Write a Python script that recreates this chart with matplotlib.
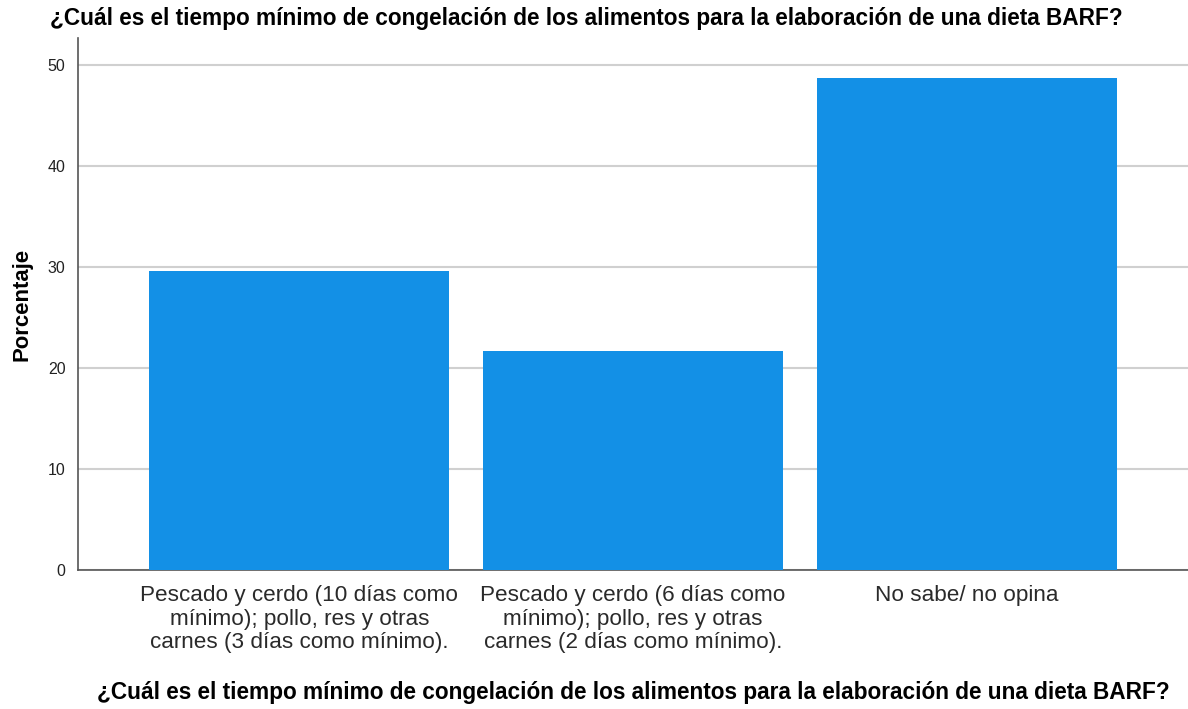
import numpy as np
import matplotlib.pyplot as plt

plt.rcParams['font.family'] = ['Liberation Sans', 'DejaVu Sans']

# Data
categories = [
    'Pescado y cerdo (10 días como\nmínimo); pollo, res y otras\ncarnes (3 días como mínimo).',
    'Pescado y cerdo (6 días como\nmínimo); pollo, res y otras\ncarnes (2 días como mínimo).',
    'No sabe/ no opina',
]
percentages = [29.6, 21.7, 48.7]
yticks = [0, 10, 20, 30, 40, 50]

question = '¿Cuál es el tiempo mínimo de congelación de los alimentos para la elaboración de una dieta BARF?'

fig = plt.figure(figsize=(11.88, 7.09), dpi=100)
ax = fig.add_axes([0.0657, 0.196, 0.9343, 0.75])

x = np.arange(len(categories))
ax.bar(x, percentages, width=0.9, color='#1390e6', zorder=3)

ax.set_xlim(-0.663, 2.663)
ax.set_ylim(0, 52.6)
ax.set_yticks(yticks)
ax.set_xticks(x)
ax.set_xticklabels(categories, fontsize=16.2, color='#2a2a2a', linespacing=1.15)
ax.tick_params(axis='x', length=0, pad=11)
ax.tick_params(axis='y', length=0, pad=9, labelsize=11.5, labelcolor='#222222')

ax.grid(axis='y', color='#d0d0d0', linewidth=1.5, zorder=0)
for side in ['top', 'right']:
    ax.spines[side].set_visible(False)
for side in ['left', 'bottom']:
    ax.spines[side].set_color('#555555')
    ax.spines[side].set_linewidth(1.2)

ax.set_ylabel('Porcentaje', fontsize=15.9, fontweight='bold', labelpad=11)
ax.set_xlabel(question, fontsize=16.3, fontweight='bold', labelpad=20)

fig.text(0.042, 0.974, question, fontsize=16.3, fontweight='bold', va='center', ha='left')

fig.savefig('out.png', dpi=100, facecolor='white')
